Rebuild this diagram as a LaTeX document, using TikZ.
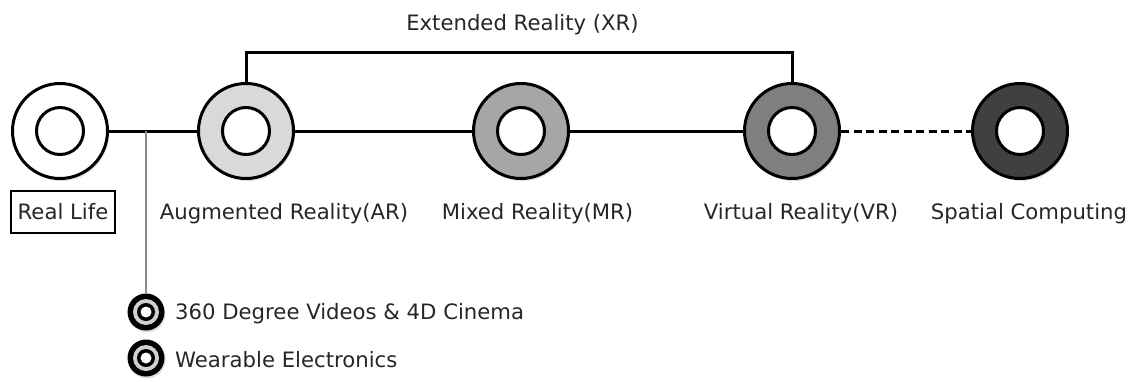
\documentclass[tikz,border=0pt]{standalone}
\usepackage{fontspec}
\setmainfont{DejaVu Sans}
\usetikzlibrary{shadows}
\definecolor{txt}{HTML}{262626}
\definecolor{arfill}{HTML}{D9D9D9}
\definecolor{mrfill}{HTML}{A6A6A6}
\definecolor{vrfill}{HTML}{7F7F7F}
\definecolor{scfill}{HTML}{404040}
\definecolor{bulletgray}{HTML}{D0D0D0}
\tikzset{
  ring/.style={circle, draw=black, line width=3pt, minimum size=95pt, inner sep=0pt,
    drop shadow={shadow xshift=1.5pt, shadow yshift=-2.5pt, opacity=0.25},
    path picture={\draw[line width=3pt, fill=white] (path picture bounding box.center) circle (23.5pt);}},
  conn/.style={line width=3pt, draw=black},
  lbl/.style={text=txt, font=\fontsize{21.2}{25}\selectfont, anchor=base, inner sep=0pt},
  bullet/.style={circle, fill=black, minimum size=37pt, inner sep=0pt,
    drop shadow={shadow xshift=1pt, shadow yshift=-2pt, opacity=0.25},
    path picture={
      \fill[bulletgray] (path picture bounding box.center) circle (13pt);
      \fill[black] (path picture bounding box.center) circle (9pt);
      \fill[white] (path picture bounding box.center) circle (5.5pt);}},
}
\begin{document}
\begin{tikzpicture}[x=1pt, y=-1pt]
\useasboundingbox (0,0) rectangle (1132,381);
% main circles
\node[ring, fill=white]  (rl) at (60,131) {};
\node[ring, fill=arfill] (ar) at (246,131) {};
\node[ring, fill=mrfill] (mr) at (521,131) {};
\node[ring, fill=vrfill] (vr) at (792,131) {};
\node[ring, fill=scfill] (sc) at (1020,131) {};
% connectors
\draw[conn] (rl) -- (ar);
\draw[conn] (ar) -- (mr);
\draw[conn] (mr) -- (vr);
\draw[conn, dash pattern=on 8pt off 4.5pt] (vr) -- (sc);
% XR bracket
\coordinate (xrtop) at (0,52);
\draw[conn] (ar.north) -- (ar.north |- xrtop) -| (vr.north);
\node[lbl] (xr) at (522.5,30) {Extended Reality (XR)};
% labels
\node[text=txt, font=\fontsize{21.2}{25}\selectfont, draw=black, line width=1.1pt,
      minimum width=104pt, minimum height=42pt, inner sep=0pt] (rllbl) at (63,212) {Real Life};
\node[lbl] (arlbl) at (284,219) {Augmented Reality(AR)};
\node[lbl] (mrlbl) at (537.5,219) {Mixed Reality(MR)};
\node[lbl] (vrlbl) at (801,219) {Virtual Reality(VR)};
\node[lbl] (sclbl) at (1029,219) {Spatial Computing};
% branch
\coordinate (br) at (146,131);
\node[bullet] (b1) at (146,312) {};
\node[bullet] (b2) at (146,358) {};
\draw[line width=1.3pt, draw=black!45] (br) -- (b1.north);
\node[lbl, anchor=base west] (b1lbl) at (175,319) {360 Degree Videos \& 4D Cinema};
\node[lbl, anchor=base west] (b2lbl) at (175,367) {Wearable Electronics};
\end{tikzpicture}
\end{document}
